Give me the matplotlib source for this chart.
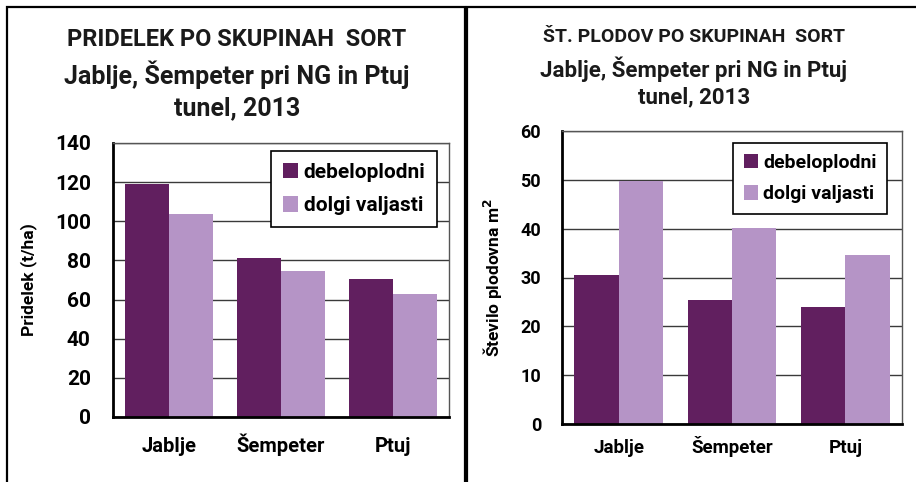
import numpy as np
import matplotlib.pyplot as plt
from matplotlib.patches import Rectangle

# podatki
kraji = ['Jablje', 'Šempeter', 'Ptuj']
skupine = ['debeloplodni', 'dolgi valjasti']
pridelek_debelo = [119.3, 81.1, 70.3]
pridelek_dolgi = [103.6, 74.8, 62.7]
plodovi_debelo = [30.6, 25.3, 24.0]
plodovi_dolgi = [49.8, 40.2, 34.7]

temna = '#611f5f'
svetla = '#b594c6'
W, H = 916, 482

plt.rcParams['font.family'] = ['Roboto', 'DejaVu Sans']
plt.rcParams['font.weight'] = 'bold'

fig = plt.figure(figsize=(W / 100, H / 100), dpi=100)


def px(x0, y0, x1, y1):
    # pretvori piksle (od zgoraj) v koordinate slike
    return [x0 / W, 1 - y1 / H, (x1 - x0) / W, (y1 - y0) / H]


# okvirja obeh grafov
for x0, x1 in [(7, 465), (467, 930)]:
    fig.patches.append(Rectangle((x0 / W, -0.1), (x1 - x0) / W, 1 - 7 / H + 0.1,
                                 transform=fig.transFigure, fill=False,
                                 edgecolor='black', linewidth=1.6))


def graf(box, deb, dol, ymax, korak, naslov, ylabel, fs, title_fs,
         title_y, title_x, leg_box, ylab_x, pads):
    # fs = (y oznake, x oznake, legenda, naslov osi)
    ax = fig.add_axes(px(*box))
    x = np.arange(len(kraji))
    w = 0.39
    ax.bar(x - w / 2, deb, w, color=temna, label=skupine[0], zorder=2)
    ax.bar(x + w / 2, dol, w, color=svetla, label=skupine[1], zorder=2)
    ax.set_xlim(-0.5, 2.5)
    ax.set_ylim(0, ymax)
    ax.set_yticks(np.arange(0, ymax + 1, korak))
    ax.set_xticks(x)
    ax.set_xticklabels(kraji, fontsize=fs[1], fontweight='bold')
    for t in ax.get_xticklabels():
        t.set_va('baseline')
    ax.tick_params(axis='y', labelsize=fs[0], length=0, pad=pads[0])
    ax.tick_params(axis='x', length=0, pad=pads[1])
    ax.grid(axis='y', color='#3a3a3a', linewidth=1.0, zorder=0)
    for s in ['top', 'right']:
        ax.spines[s].set_color('#555555')
        ax.spines[s].set_linewidth(1.0)
    for s in ['left', 'bottom']:
        ax.spines[s].set_linewidth(2.0)
    ax.set_ylabel(ylabel, fontsize=fs[3], fontweight='bold')
    ax.yaxis.set_label_coords(ylab_x, 0.5)
    for i, t in enumerate(naslov):
        fig.text(title_x / W, 1 - title_y[i] / H, t, ha='center', va='center',
                 fontsize=title_fs[i], fontweight='bold', color='#1a1a1a')
    lx0, ly0, lx1, ly1 = leg_box
    bb = ax.transAxes.inverted().transform(fig.transFigure.transform(
        [(lx0 / W, 1 - ly1 / H), (lx1 / W, 1 - ly0 / H)]))
    leg = ax.legend(loc='center', bbox_to_anchor=(bb[0][0], bb[0][1],
                    bb[1][0] - bb[0][0], bb[1][1] - bb[0][1]),
                    fontsize=fs[2], fancybox=False, framealpha=1,
                    edgecolor='black', handlelength=0.75, handleheight=0.75,
                    handletextpad=0.25, labelspacing=0.7, borderpad=0.55)
    leg.get_frame().set_linewidth(1.2)
    return ax


graf((113, 143, 449, 417), pridelek_debelo, pridelek_dolgi, 140, 20,
     ['PRIDELEK PO SKUPINAH  SORT', 'Jablje, Šempeter pri NG in Ptuj', 'tunel, 2013'],
     'Pridelek (t/ha)', (15, 14.5, 15, 12.5), (17, 18, 18), [40, 75, 108], 237,
     (270, 150, 438, 228), -0.225, (16, 25))

graf((562, 131, 902, 424), plodovi_debelo, plodovi_dolgi, 60, 10,
     ['ŠT. PLODOV PO SKUPINAH  SORT', 'Jablje, Šempeter pri NG in Ptuj', 'tunel, 2013'],
     'Število plodovna m$^2$', (13, 13.5, 14, 12.5), (14, 16, 16), [37, 69, 97], 694,
     (727, 139, 893, 218), -0.168, (15, 21))

fig.savefig('out.png', dpi=100)
